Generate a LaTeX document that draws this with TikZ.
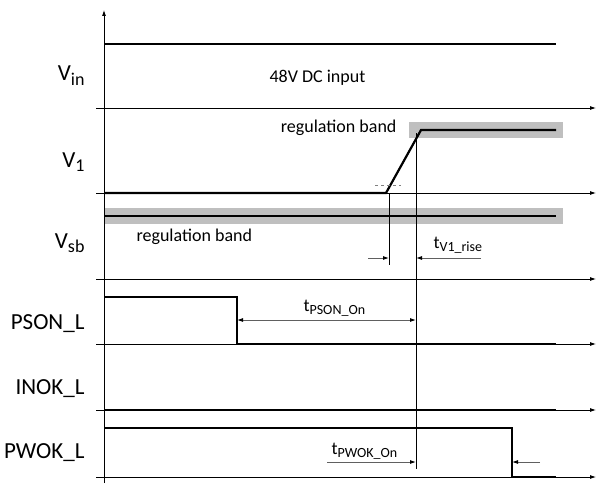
\documentclass[tikz,border=0pt]{standalone}
\usepackage{fontspec}
\setmainfont{Carlito}
\usetikzlibrary{arrows.meta,positioning}

% lowered subscripts, larger than \textsubscript
\newcommand{\sigsub}[1]{\raisebox{-4.5pt}{\fontsize{18}{18}\selectfont #1}}
\newcommand{\tsub}[1]{\raisebox{-3.5pt}{\fontsize{14}{14}\selectfont #1}}

\begin{document}
\begin{tikzpicture}[
    x=1pt, y=-1pt,
    >={Latex[length=6pt,width=4pt,color=black]},
    axis/.style={->, line width=0.8pt},
    signal/.style={line width=2.2pt},
    band/.style={fill=gray!50, draw=none},
    guide/.style={line width=0.7pt},
    dim/.style={draw=gray!75!black, line width=0.9pt, ->},
    signame/.style={font=\fontsize{23}{25}\selectfont, anchor=base east},
    note/.style={font=\fontsize{18}{20}\selectfont}
]
    \useasboundingbox (0,0) rectangle (596,484);

    % bands
    \fill[band] (409,122) rectangle (563,138);
    \fill[band] (104,208) rectangle (563,224);

    % time axes
    \draw[axis] (104,483) -- (104,10);
    \foreach \y in {108,193,279,344,410,477}
        \draw[axis] (96,\y) -- (596,\y);

    % signal names
    \node[signame] (vin)   at (88,81)  {V\sigsub{in}};
    \node[signame] (vone)  at (88,167) {V\sigsub{1}};
    \node[signame] (vsb)   at (88,248) {V\sigsub{sb}};
    \node[signame] (pson)  at (88,329) {PSON\_L};
    \node[signame] (inok)  at (88,394) {INOK\_L};
    \node[signame] (pwok)  at (88,458) {PWOK\_L};

    % key points
    \coordinate (rampstart) at (386,193);
    \coordinate (rampend)   at (421,130);
    \coordinate (psonfall)  at (237,297);
    \coordinate (pwokfall)  at (512,428);

    % waveforms
    \draw[signal] (104,44) -- (556,44);
    \draw[signal] (104,193) -- (rampstart) -- (rampend) -- (556,130);
    \draw[signal] (104,216) -- (556,216);
    \draw[signal] (104,297) -- (psonfall) -- (237,344) -- (556,344);
    \draw[signal] (104,410) -- (556,410);
    \draw[signal] (104,428) -- (pwokfall) -- (512,477) -- (556,477);
    \draw[gray, dashed, line width=0.8pt] (375,185) -- (401,185);

    % timing guides
    \coordinate (riseA) at (389,193);
    \coordinate (riseB) at (416,133);
    \draw[guide] (riseA) -- (389,265);
    \draw[guide] (riseB) -- (416,469);

    % timing dimensions
    \draw[dim] (368,258) -- (389,258);
    \draw[dim] (481,258) -- (416,258);
    \draw[dim, <->] (psonfall |- 0,320) -- (416,320);
    \draw[dim] (327,462) -- (416,462);
    \draw[dim] (540,462) -- (pwokfall |- 0,462);

    % texts
    \node[note, anchor=base west] (dcin) at (266,83) {48V DC input};
    \node[note, anchor=base east] (bandA) at (400,132) {regulation band};
    \node[note, anchor=base west] (bandB) at (133,241) {regulation band};
    \node[note, anchor=base west] (trise) at (430,248) {t\tsub{V1\_rise}};
    \node[note, anchor=base west] (tpson) at (300,311) {t\tsub{PSON\_On}};
    \node[note, anchor=base west] (tpwok) at (328,454) {t\tsub{PWOK\_On}};
\end{tikzpicture}
\end{document}
